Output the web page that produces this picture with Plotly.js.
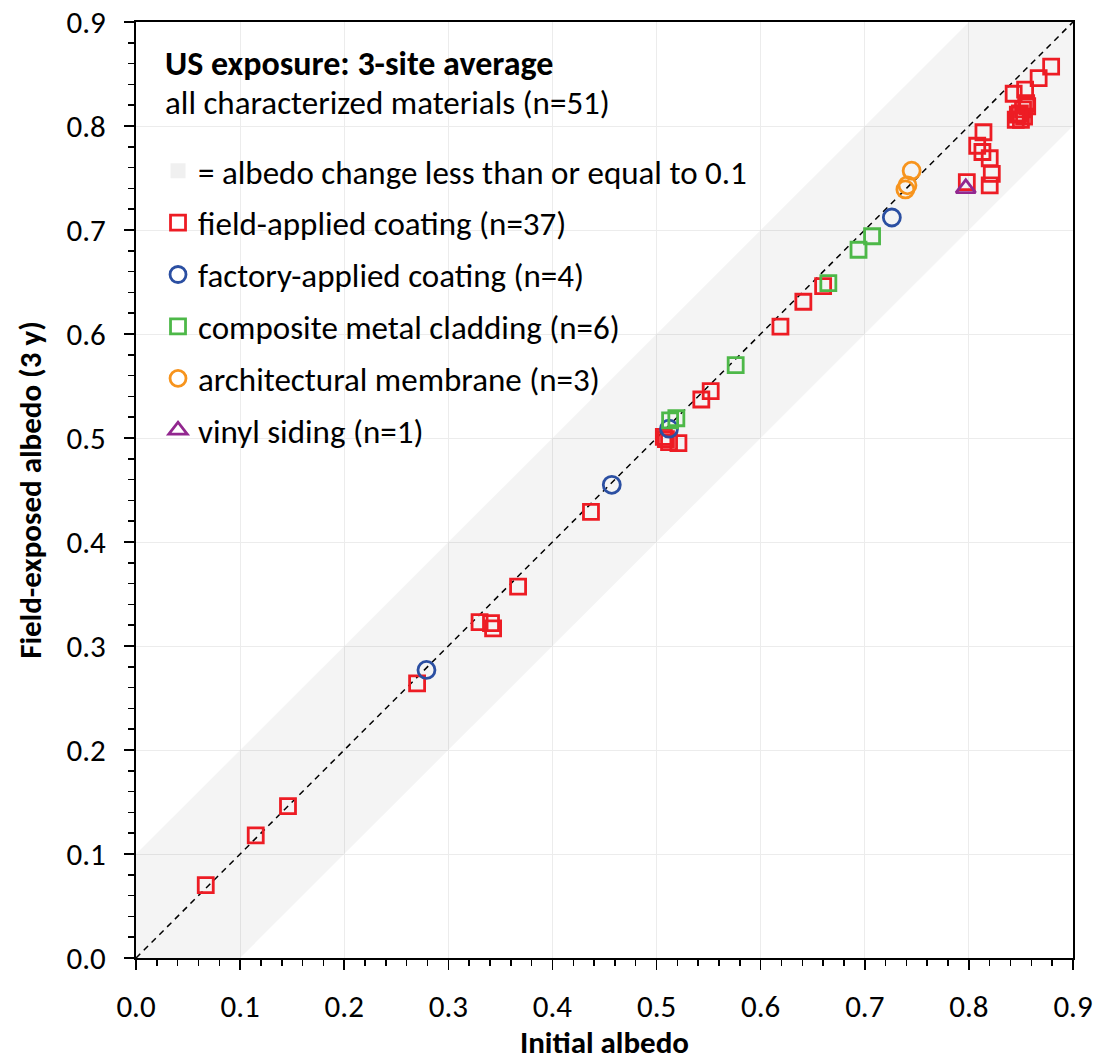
<!DOCTYPE html>
<html>
<head>
<meta charset="utf-8">
<script src="https://cdn.plot.ly/plotly-3.0.1.min.js"></script>
<style>html,body{margin:0;padding:0;background:#fff;}</style>
</head>
<body>
<div id="chart" style="width:1095px;height:1061px;"></div>
<script>
// ---- data ----
const fieldX = [0.067,0.115,0.146,0.270,0.330,0.341,0.343,0.367,0.437,0.507,0.509,0.512,0.521,0.543,0.552,0.619,0.641,0.660,0.798,0.820,0.822,0.820,0.813,0.808,0.814,0.879,0.867,0.854,0.843,0.856,0.852,0.847,0.850,0.855,0.849,0.853,0.845];
const fieldY = [0.070,0.118,0.146,0.264,0.323,0.322,0.317,0.357,0.429,0.501,0.499,0.496,0.495,0.537,0.545,0.607,0.631,0.646,0.746,0.743,0.754,0.769,0.775,0.781,0.794,0.857,0.846,0.835,0.831,0.819,0.816,0.811,0.806,0.822,0.812,0.809,0.806];
const factoryX = [0.279,0.457,0.512,0.726];
const factoryY = [0.277,0.455,0.509,0.712];
const compositeX = [0.513,0.519,0.576,0.665,0.694,0.707];
const compositeY = [0.517,0.519,0.570,0.649,0.681,0.694];
const membraneX = [0.745,0.741,0.739];
const membraneY = [0.757,0.743,0.739];
const vinylX = [0.797];
const vinylY = [0.740];

const axisRange = [0, 0.9];
const bandHalfWidth = 0.1;
const tickVals = [0,0.1,0.2,0.3,0.4,0.5,0.6,0.7,0.8,0.9];
const tickText = ["0.0","0.1","0.2","0.3","0.4","0.5","0.6","0.7","0.8","0.9"];

const seriesNames = {
  band: "= albedo change less than or equal to 0.1",
  field: "field-applied coating (n=37)",
  factory: "factory-applied coating (n=4)",
  composite: "composite metal cladding (n=6)",
  membrane: "architectural membrane (n=3)",
  vinyl: "vinyl siding (n=1)"
};
const headerTitle = "US exposure: 3-site average";
const headerSub = "all characterized materials (n=51)";

// ---- build ----
const lo = axisRange[0], hi = axisRange[1], d = bandHalfWidth;
const bandX = [lo, lo, hi - d, hi, hi, lo + d];
const bandY = [lo, lo + d, hi, hi, hi - d, lo];

const FONT = "Carlito, Lato, sans-serif";
const mk = (sym, color, size) => ({symbol: sym, size: size, color: color, line: {color: color, width: 2.8}});

const traces = [
  {x: bandX, y: bandY, type: 'scatter', mode: 'lines', fill: 'toself',
   fillcolor: 'rgba(0,0,0,0.045)', line: {width: 0}, showlegend: false, hoverinfo: 'skip'},
  {x: axisRange, y: axisRange, type: 'scatter', mode: 'lines',
   line: {color: '#000', width: 1.5, dash: '6px,5px'}, showlegend: false, hoverinfo: 'skip'},
  {x: [null], y: [null], type: 'scatter', mode: 'markers', name: seriesNames.band, legendgroup: 'a',
   marker: {symbol: 'square', size: 15, color: '#f0f0f0', line: {width: 0}}},
  {x: fieldX, y: fieldY, type: 'scatter', mode: 'markers', name: seriesNames.field, legendgroup: 'b',
   marker: mk('square-open', '#ED1C24', 15)},
  {x: factoryX, y: factoryY, type: 'scatter', mode: 'markers', name: seriesNames.factory, legendgroup: 'c',
   marker: mk('circle-open', '#2B4FA2', 17)},
  {x: compositeX, y: compositeY, type: 'scatter', mode: 'markers', name: seriesNames.composite, legendgroup: 'd',
   marker: mk('square-open', '#4DB848', 15)},
  {x: membraneX, y: membraneY, type: 'scatter', mode: 'markers', name: seriesNames.membrane, legendgroup: 'e',
   marker: mk('circle-open', '#F7941D', 17)},
  {x: vinylX, y: vinylY, type: 'scatter', mode: 'markers', name: seriesNames.vinyl, legendgroup: 'f',
   marker: mk('triangle-up-open', '#92278F', 17)}
];

const axisCommon = {
  range: axisRange, tickvals: tickVals, ticktext: tickText,
  showgrid: true, gridcolor: '#ececec', gridwidth: 1, zeroline: false,
  showline: true, linecolor: '#000', linewidth: 2, mirror: true,
  ticks: 'outside', ticklen: 10, tickwidth: 1.5, tickcolor: '#000',
  tickfont: {family: FONT, size: 31, color: '#000'},
  minor: {dtick: 0.02, ticks: 'outside', ticklen: 6, tickwidth: 1.5, tickcolor: '#000', showgrid: false}
};

const layout = {
  width: 1095, height: 1061,
  margin: {l: 136, r: 22, t: 22, b: 103},
  paper_bgcolor: '#fff', plot_bgcolor: '#fff',
  font: {family: FONT, color: '#000'},
  xaxis: Object.assign({}, axisCommon, {
    title: {text: '<b>Initial albedo</b>', font: {family: FONT, size: 31, color: '#000'}, standoff: 16},
    ticklabelstandoff: 10
  }),
  yaxis: Object.assign({}, axisCommon, {
    title: {text: '<b>Field-exposed albedo (3 y)</b>', font: {family: FONT, size: 31, color: '#000'}, standoff: 16},
    ticklabelstandoff: 12
  }),
  showlegend: true,
  legend: {
    x: 0.0235, y: 0.871, xanchor: 'left', yanchor: 'top',
    bgcolor: 'rgba(0,0,0,0)', borderwidth: 0,
    font: {family: FONT, size: 33, color: '#000'},
    tracegroupgap: 6, itemsizing: 'trace'
  },
  annotations: [
    {xref: 'paper', yref: 'paper', x: 0.029, y: 0.956, xanchor: 'left', yanchor: 'middle',
     text: '<b>' + headerTitle + '</b>', showarrow: false, font: {family: FONT, size: 34, color: '#000'}},
    {xref: 'paper', yref: 'paper', x: 0.029, y: 0.9135, xanchor: 'left', yanchor: 'middle',
     text: headerSub, showarrow: false, font: {family: FONT, size: 33, color: '#000'}}
  ]
};

Plotly.newPlot('chart', traces, layout, {displayModeBar: false, staticPlot: true});
</script>
</body>
</html>
